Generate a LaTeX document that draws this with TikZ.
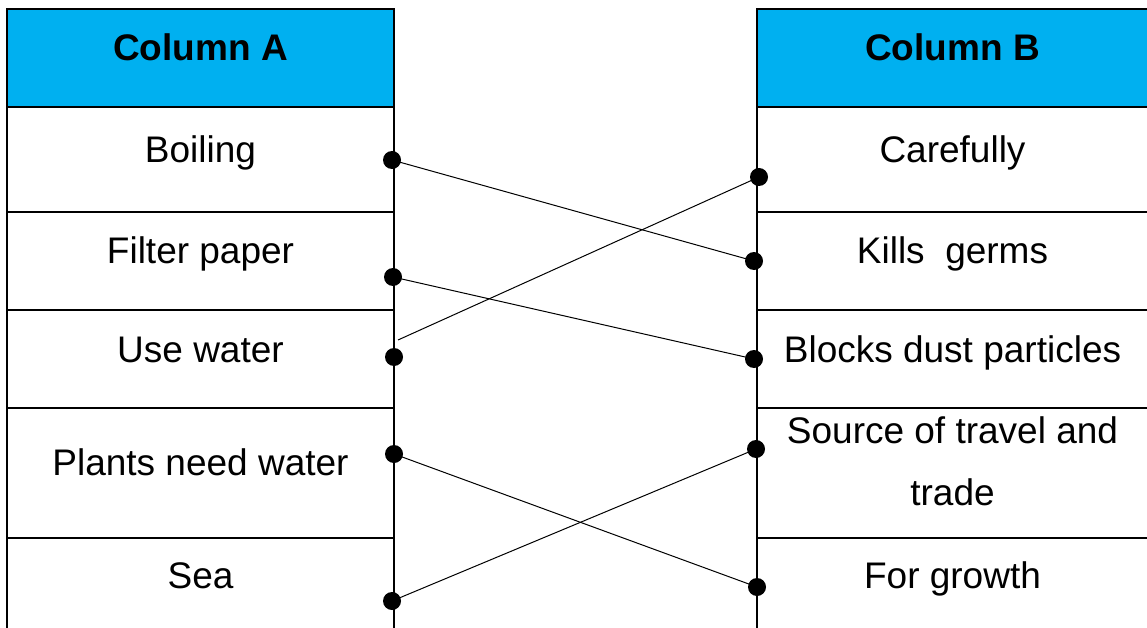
\documentclass[tikz,border=0pt]{standalone}
\usepackage{fontspec}
\setmainfont{Liberation Sans}
\definecolor{hdrblue}{RGB}{0,176,240}
\begin{document}
\begin{tikzpicture}[x=1pt,y=-1pt,
  grid/.style={line width=2.6pt},
  hdr/.style={font=\fontsize{37}{44}\selectfont\bfseries, anchor=base},
  cell/.style={font=\fontsize{37}{44}\selectfont, anchor=base, inner sep=0pt},
  dot/.style={circle, fill=black, minimum size=18pt, inner sep=0pt},
  link/.style={line width=1pt}]
\useasboundingbox (0,0) rectangle (1147,628);
\clip (0,0) rectangle (1147,628);
% header fills
\fill[hdrblue] (7,9) rectangle (394,107);
\fill[hdrblue] (757,9) rectangle (1149,107);
% left table grid
\draw[grid] (7,640) -- (7,9) -- (394,9) -- (394,640);
\foreach \yy in {107,212,310,408,538} \draw[grid] (7,\yy) -- (394,\yy);
% right table grid
\draw[grid] (757,640) -- (757,9) -- (1149,9) -- (1149,640);
\foreach \yy in {107,212,310,408,538} \draw[grid] (757,\yy) -- (1149,\yy);
% headers
\node[hdr] (ha) at (200.5,61) {Column A};
\node[hdr] (hb) at (952.5,61) {Column B};
% left texts
\node[cell] (a1) at (200.5,163) {Boiling};
\node[cell] (a2) at (200.5,263) {Filter paper};
\node[cell] (a3) at (200.5,362) {Use water};
\node[cell] (a4) at (200.5,475) {Plants need water};
\node[cell] (a5) at (200.5,588) {Sea};
% right texts
\node[cell] (b1) at (952.5,163) {Carefully};
\node[cell] (b2) at (952.5,263) {Kills\ \ germs};
\node[cell] (b3) at (952.5,362) {Blocks dust particles};
\node[cell] (b4a) at (952.5,443) {Source of travel and};
\node[cell] (b4b) at (952.5,505) {trade};
\node[cell] (b5) at (952.5,588) {For growth};
% dots
\node[dot] (da1) at (392,160) {};
\node[dot] (da2) at (393,277) {};
\node[dot] (da3) at (394,357) {};
\node[dot] (da4) at (394,454) {};
\node[dot] (da5) at (392,601) {};
\node[dot] (db1) at (759,177) {};
\node[dot] (db2) at (754,261) {};
\node[dot] (db3) at (754,359) {};
\node[dot] (db4) at (756,449) {};
\node[dot] (db5) at (757,587) {};
\coordinate (uw) at (398,340);
% connectors
\begin{scope}[on background layer/.style={}]
\draw[link] (da1.center) -- (db2.center);
\draw[link] (da2.center) -- (db3.center);
\draw[link] (uw) -- (db1.center);
\draw[link] (da4.center) -- (db5.center);
\draw[link] (da5.center) -- (db4.center);
\end{scope}
\end{tikzpicture}
\end{document}
